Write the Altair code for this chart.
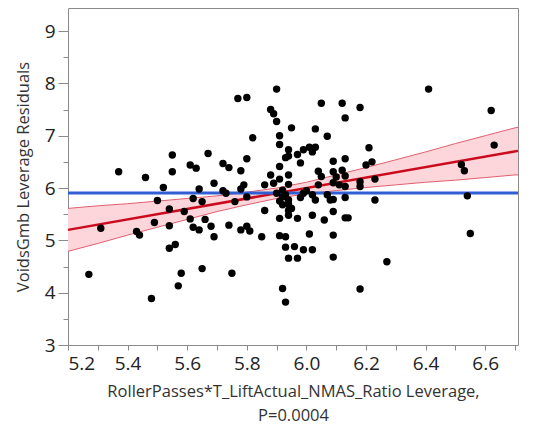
import altair as alt
import pandas as pd

# ---- data ----
x_vals = [5.90, 5.77, 5.80, 6.05, 6.12, 6.18, 6.13, 5.88, 5.89, 5.90, 6.41, 6.62, 5.95, 6.03, 5.82, 5.91, 6.07,
          5.91, 6.63, 6.21, 5.67, 5.94, 5.93, 5.94, 5.97, 5.99, 6.01, 6.03, 6.02, 5.55, 5.80, 5.37, 5.55, 5.46,
          5.61, 5.63, 5.72, 5.74, 5.78, 5.91, 5.98, 6.09, 6.13, 6.22, 6.20, 6.52, 6.53, 5.88, 5.91, 5.94, 6.04,
          6.05, 6.09, 6.12, 6.13, 6.09, 6.11, 6.13, 6.10, 5.52, 5.69, 5.72, 5.73, 5.64, 5.79, 5.78, 5.86, 5.89,
          5.94, 6.04, 6.18, 6.18, 6.23, 5.50, 5.62, 5.65, 5.80, 5.76, 5.90, 5.92, 5.93, 5.91, 5.94, 5.92, 5.94,
          5.99, 6.00, 6.02, 6.03, 5.98, 6.07, 6.08, 6.09, 6.13, 6.23, 6.54, 5.54, 5.59, 5.86, 5.92, 5.94, 5.95,
          6.09, 5.31, 5.49, 5.43, 5.44, 5.54, 5.61, 5.62, 5.64, 5.66, 5.68, 5.69, 5.74, 5.78, 5.80, 5.81, 5.85,
          5.91, 5.94, 5.97, 6.02, 6.06, 6.13, 6.14, 6.01, 6.09, 5.91, 5.93, 6.55, 5.54, 5.56, 5.93, 5.96, 5.99,
          6.02, 5.94, 5.97, 6.09, 6.27, 5.27, 5.65, 5.58, 5.75, 5.57, 5.92, 6.18, 5.48, 5.93]
y_vals = [7.89, 7.71, 7.73, 7.62, 7.62, 7.54, 7.34, 7.50, 7.42, 7.27, 7.89, 7.48, 7.15, 7.13, 6.96, 7.00, 6.99,
          6.83, 6.82, 6.77, 6.66, 6.73, 6.58, 6.61, 6.64, 6.73, 6.78, 6.78, 6.69, 6.63, 6.56, 6.31, 6.31, 6.20,
          6.44, 6.38, 6.47, 6.39, 6.33, 6.41, 6.48, 6.51, 6.56, 6.50, 6.44, 6.45, 6.33, 6.25, 6.17, 6.25, 6.32,
          6.22, 6.31, 6.34, 6.23, 6.10, 6.06, 6.03, 6.21, 6.01, 6.09, 5.95, 5.90, 5.98, 6.06, 5.98, 6.06, 6.09,
          6.07, 6.06, 6.12, 6.03, 6.17, 5.76, 5.80, 5.74, 5.83, 5.74, 5.90, 5.83, 5.87, 5.75, 5.77, 5.96, 5.69,
          5.90, 5.95, 5.87, 5.77, 5.82, 5.87, 5.77, 5.78, 5.82, 5.77, 5.85, 5.60, 5.55, 5.57, 5.68, 5.57, 5.61,
          5.55, 5.23, 5.34, 5.17, 5.10, 5.28, 5.41, 5.25, 5.20, 5.40, 5.27, 5.07, 5.29, 5.20, 5.27, 5.18, 5.07,
          5.42, 5.48, 5.42, 5.48, 5.39, 5.43, 5.43, 5.12, 5.10, 5.09, 5.07, 5.13, 4.85, 4.92, 4.87, 4.88, 4.82,
          4.82, 4.66, 4.66, 4.68, 4.59, 4.35, 4.46, 4.37, 4.37, 4.13, 4.08, 4.07, 3.89, 3.82]

mean_y = [5.905]

fit_x = [5.2, 6.71]
fit_y = [5.2, 6.71]

band_x = [5.2, 5.3, 5.4, 5.5, 5.6, 5.7, 5.8, 5.9, 6.0, 6.1, 6.2, 6.3, 6.4, 6.5, 6.6, 6.7, 6.71]
band_lo = [4.79, 4.94, 5.10, 5.25, 5.40, 5.55, 5.68, 5.80, 5.89, 5.95, 6.01, 6.06, 6.11, 6.15, 6.20, 6.25, 6.25]
band_hi = [5.61, 5.66, 5.70, 5.75, 5.80, 5.85, 5.92, 6.00, 6.11, 6.25, 6.39, 6.54, 6.69, 6.85, 7.00, 7.15, 7.16]

x_ticks = [5.2, 5.3, 5.4, 5.5, 5.6, 5.7, 5.8, 5.9, 6.0, 6.1, 6.2, 6.3, 6.4, 6.5, 6.6, 6.7]
y_ticks = [3, 3.5, 4, 4.5, 5, 5.5, 6, 6.5, 7, 7.5, 8, 8.5, 9]

x_title = ["RollerPasses*T_LiftActual_NMAS_Ratio Leverage,", "P=0.0004"]
y_title = "VoidsGmb Leverage Residuals"

# ---- tables ----
pts = pd.DataFrame({"x": x_vals, "y": y_vals})
fit = pd.DataFrame({"x": fit_x, "y": fit_y})
band = pd.DataFrame({"x": band_x, "y": band_lo, "y2": band_hi})
band_lo_df = pd.DataFrame({"x": band_x, "y": band_lo})
band_hi_df = pd.DataFrame({"x": band_x, "y": band_hi})
mean_df = pd.DataFrame({"y": mean_y})

FONT = "Open Sans"
GRAY = "#8a8a8a"

x_scale = alt.Scale(domain=[5.2, 6.71], nice=False, zero=False)
y_scale = alt.Scale(domain=[3, 9.44], nice=False, zero=False)

x_axis = alt.Axis(
    values=x_ticks,
    labelExpr="round(datum.value*10) % 2 == 0 ? format(datum.value, '.1f') : ''",
    labelOverlap=False,
    title=x_title,
    domain=False,
    grid=False,
    tickColor=GRAY,
    tickSize=5,
    labelPadding=4,
    titlePadding=10,
    titleLineHeight=24,
)
y_axis = alt.Axis(
    values=y_ticks,
    labelExpr="datum.value % 1 == 0 ? format(datum.value, 'd') : ''",
    labelOverlap=False,
    title=y_title,
    domain=False,
    grid=False,
    tickColor=GRAY,
    tickSize={"condition": {"test": "datum.value % 1 == 0", "value": 10}, "value": 5},
    labelPadding=3,
    titlePadding=13,
)

X = alt.X("x:Q", scale=x_scale, axis=x_axis)
Y = alt.Y("y:Q", scale=y_scale, axis=y_axis)

band_area = alt.Chart(band).mark_area(color="#fcd6da", opacity=1).encode(x=X, y=Y, y2="y2:Q")
band_l = alt.Chart(band_lo_df).mark_line(color="#e06070", strokeWidth=1).encode(x=X, y=Y)
band_h = alt.Chart(band_hi_df).mark_line(color="#e06070", strokeWidth=1).encode(x=X, y=Y)
fit_line = alt.Chart(fit).mark_line(color="#cc0a1e", strokeWidth=2.5).encode(x=X, y=Y)
mean_line = alt.Chart(mean_df).mark_rule(color="#2f5fd3", strokeWidth=3).encode(y=Y)
points = alt.Chart(pts).mark_circle(size=55, color="black", opacity=1).encode(x=X, y=Y)

chart = alt.layer(band_area, band_l, band_h, fit_line, mean_line, points).properties(
    width=450,
    height=337,
    autosize=alt.AutoSizeParams(type="none"),
    padding={"left": 60, "top": 0, "right": 8, "bottom": 83},
    background="white",
).configure_view(
    stroke=GRAY, strokeWidth=1, fill="white"
).configure_axis(
    labelFont=FONT, labelFontSize=19, labelColor="#222222",
    titleFont=FONT, titleFontSize=16.5, titleColor="#333333", titleFontWeight="normal",
)

chart.save("out.html", embed_options={"renderer": "svg", "actions": False})
